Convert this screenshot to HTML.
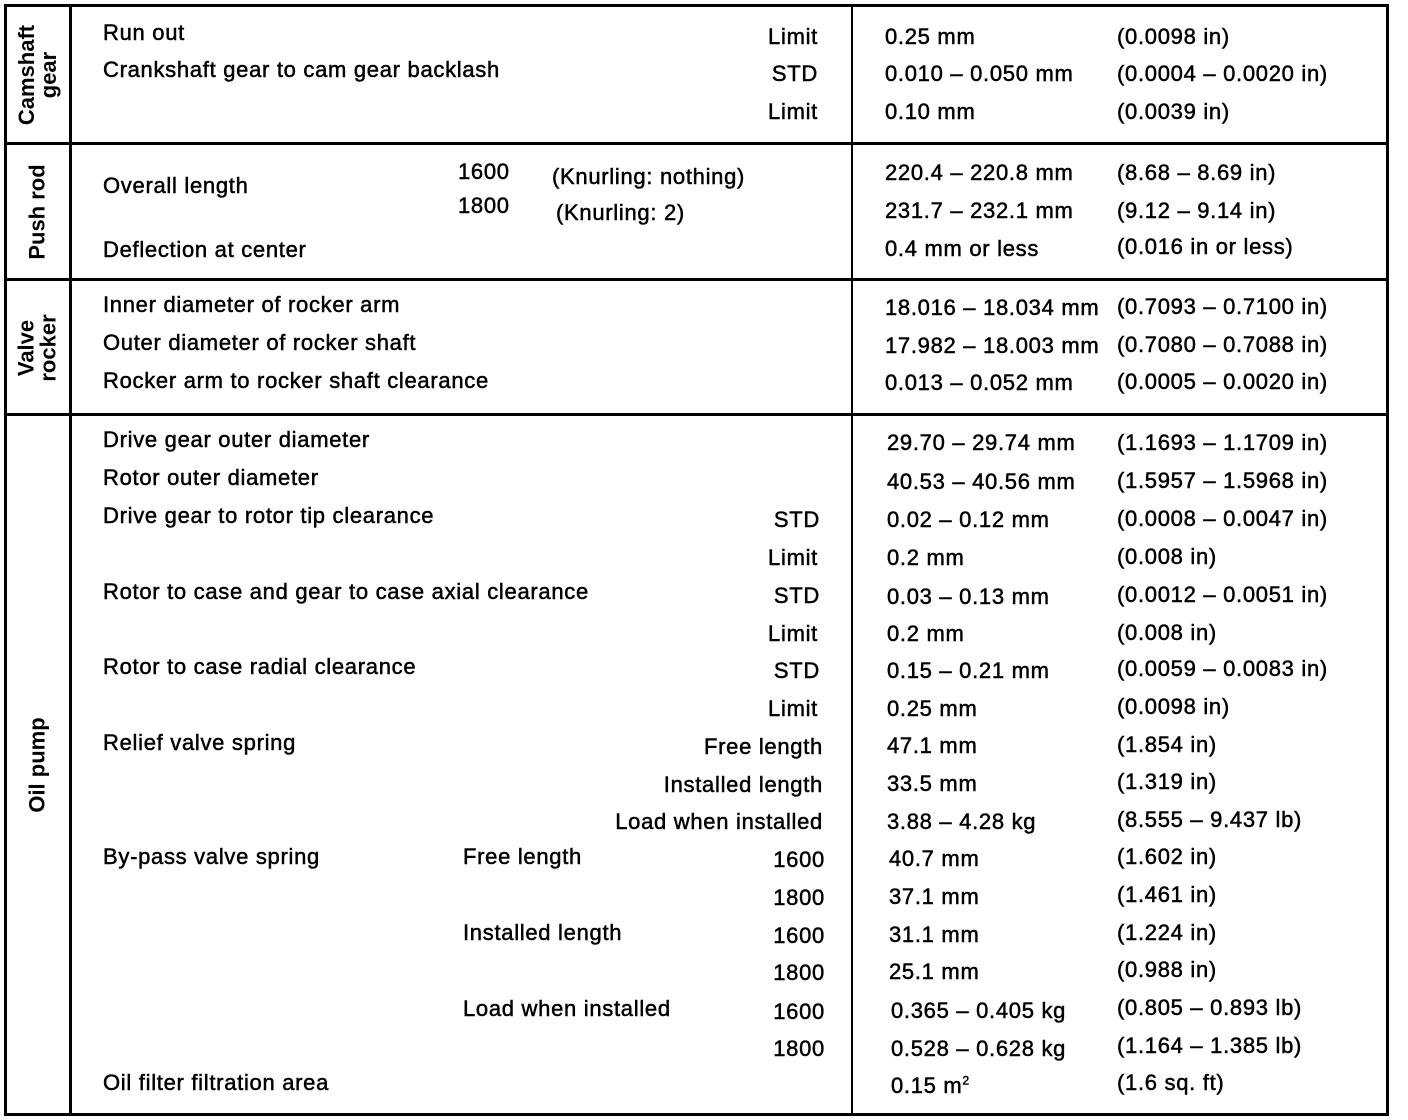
<!DOCTYPE html>
<html><head><meta charset="utf-8"><style>
body{margin:0;background:#fff;width:1408px;height:1120px;position:relative;overflow:hidden;font-family:"Liberation Sans",sans-serif;color:#000}
.t{position:absolute;font-size:22px;line-height:24px;white-space:nowrap;letter-spacing:0.7px;-webkit-text-stroke:0.5px #000}
.r{text-align:right}
.l{position:absolute;background:#000}
.v{position:absolute;display:flex;align-items:center;justify-content:center}
.v div{transform:rotate(-90deg);font-weight:bold;font-size:22px;line-height:22px;text-align:center;white-space:nowrap}
</style></head><body>
<div class="l" style="left:4px;top:4px;width:1385px;height:3px"></div>
<div class="l" style="left:4px;top:1113px;width:1385px;height:3px"></div>
<div class="l" style="left:4px;top:4px;width:3px;height:1112px"></div>
<div class="l" style="left:1386px;top:4px;width:3px;height:1112px"></div>
<div class="l" style="left:69px;top:4px;width:3px;height:1112px"></div>
<div class="l" style="left:851px;top:4px;width:2px;height:1112px"></div>
<div class="l" style="left:4px;top:142px;width:1385px;height:3px"></div>
<div class="l" style="left:4px;top:278px;width:1385px;height:3px"></div>
<div class="l" style="left:4px;top:413px;width:1385px;height:3px"></div>

<div class="v" style="left:7px;top:7px;width:62px;height:136px"><div>Camshaft<br>gear</div></div>
<div class="v" style="left:7px;top:145px;width:62px;height:134px"><div>Push rod</div></div>
<div class="v" style="left:7px;top:281px;width:62px;height:133px"><div>Valve<br>rocker</div></div>
<div class="v" style="left:7px;top:416px;width:62px;height:698px"><div>Oil pump</div></div>

<div class="t" style="left:103px;top:21px">Run out</div>
<div class="t" style="left:103px;top:58px">Crankshaft gear to cam gear backlash</div>
<div class="t r" style="right:590px;top:25px">Limit</div>
<div class="t r" style="right:590px;top:62px">STD</div>
<div class="t r" style="right:590px;top:100px">Limit</div>
<div class="t" style="left:885px;top:25px">0.25 mm</div>
<div class="t" style="left:1117px;top:25px">(0.0098 in)</div>
<div class="t" style="left:885px;top:62px">0.010 – 0.050 mm</div>
<div class="t" style="left:1117px;top:62px">(0.0004 – 0.0020 in)</div>
<div class="t" style="left:885px;top:100px">0.10 mm</div>
<div class="t" style="left:1117px;top:100px">(0.0039 in)</div>

<div class="t" style="left:103px;top:174px">Overall length</div>
<div class="t" style="left:458px;top:160px">1600</div>
<div class="t" style="left:552px;top:165px">(Knurling: nothing)</div>
<div class="t" style="left:458px;top:194px">1800</div>
<div class="t" style="left:556px;top:201px">(Knurling: 2)</div>
<div class="t" style="left:103px;top:238px">Deflection at center</div>
<div class="t" style="left:885px;top:161px">220.4 – 220.8 mm</div>
<div class="t" style="left:1117px;top:161px">(8.68 – 8.69 in)</div>
<div class="t" style="left:885px;top:199px">231.7 – 232.1 mm</div>
<div class="t" style="left:1117px;top:199px">(9.12 – 9.14 in)</div>
<div class="t" style="left:885px;top:237px">0.4 mm or less</div>
<div class="t" style="left:1117px;top:235px">(0.016 in or less)</div>

<div class="t" style="left:103px;top:293px">Inner diameter of rocker arm</div>
<div class="t" style="left:103px;top:331px">Outer diameter of rocker shaft</div>
<div class="t" style="left:103px;top:369px">Rocker arm to rocker shaft clearance</div>
<div class="t" style="left:885px;top:296px">18.016 – 18.034 mm</div><div class="t" style="left:1117px;top:295px">(0.7093 – 0.7100 in)</div>
<div class="t" style="left:885px;top:334px">17.982 – 18.003 mm</div><div class="t" style="left:1117px;top:333px">(0.7080 – 0.7088 in)</div>
<div class="t" style="left:885px;top:371px">0.013 – 0.052 mm</div>
<div class="t" style="left:1117px;top:370px">(0.0005 – 0.0020 in)</div>

<div class="t" style="left:103px;top:428px">Drive gear outer diameter</div>
<div class="t" style="left:103px;top:466px">Rotor outer diameter</div>
<div class="t" style="left:103px;top:504px">Drive gear to rotor tip clearance</div>
<div class="t" style="left:103px;top:580px">Rotor to case and gear to case axial clearance</div>
<div class="t" style="left:103px;top:655px">Rotor to case radial clearance</div>
<div class="t" style="left:103px;top:731px">Relief valve spring</div>
<div class="t" style="left:103px;top:845px">By-pass valve spring</div>
<div class="t" style="left:463px;top:845px">Free length</div>
<div class="t" style="left:463px;top:921px">Installed length</div>
<div class="t" style="left:463px;top:997px">Load when installed</div>
<div class="t" style="left:103px;top:1071px">Oil filter filtration area</div>

<div class="t r" style="right:588px;top:508px">STD</div>
<div class="t r" style="right:590px;top:546px">Limit</div>
<div class="t r" style="right:588px;top:584px">STD</div>
<div class="t r" style="right:590px;top:622px">Limit</div>
<div class="t r" style="right:588px;top:659px">STD</div>
<div class="t r" style="right:590px;top:697px">Limit</div>
<div class="t r" style="right:585px;top:735px">Free length</div>
<div class="t r" style="right:585px;top:773px">Installed length</div>
<div class="t r" style="right:585px;top:810px">Load when installed</div>
<div class="t r" style="right:583px;top:848px">1600</div>
<div class="t r" style="right:583px;top:886px">1800</div>
<div class="t r" style="right:583px;top:924px">1600</div>
<div class="t r" style="right:583px;top:961px">1800</div>
<div class="t r" style="right:583px;top:1000px">1600</div>
<div class="t r" style="right:583px;top:1037px">1800</div>

<div class="t" style="left:887px;top:431px">29.70 – 29.74 mm</div><div class="t" style="left:1117px;top:431px">(1.1693 – 1.1709 in)</div>
<div class="t" style="left:887px;top:470px">40.53 – 40.56 mm</div><div class="t" style="left:1117px;top:469px">(1.5957 – 1.5968 in)</div>
<div class="t" style="left:887px;top:508px">0.02 – 0.12 mm</div><div class="t" style="left:1117px;top:507px">(0.0008 – 0.0047 in)</div>
<div class="t" style="left:887px;top:546px">0.2 mm</div><div class="t" style="left:1117px;top:545px">(0.008 in)</div>
<div class="t" style="left:887px;top:585px">0.03 – 0.13 mm</div><div class="t" style="left:1117px;top:583px">(0.0012 – 0.0051 in)</div>
<div class="t" style="left:887px;top:622px">0.2 mm</div><div class="t" style="left:1117px;top:621px">(0.008 in)</div>
<div class="t" style="left:887px;top:659px">0.15 – 0.21 mm</div><div class="t" style="left:1117px;top:657px">(0.0059 – 0.0083 in)</div>
<div class="t" style="left:887px;top:697px">0.25 mm</div><div class="t" style="left:1117px;top:695px">(0.0098 in)</div>
<div class="t" style="left:887px;top:734px">47.1 mm</div><div class="t" style="left:1117px;top:733px">(1.854 in)</div>
<div class="t" style="left:887px;top:772px">33.5 mm</div><div class="t" style="left:1117px;top:770px">(1.319 in)</div>
<div class="t" style="left:887px;top:810px">3.88 – 4.28 kg</div><div class="t" style="left:1117px;top:808px">(8.555 – 9.437 lb)</div>
<div class="t" style="left:889px;top:847px">40.7 mm</div><div class="t" style="left:1117px;top:845px">(1.602 in)</div>
<div class="t" style="left:889px;top:885px">37.1 mm</div><div class="t" style="left:1117px;top:883px">(1.461 in)</div>
<div class="t" style="left:889px;top:923px">31.1 mm</div><div class="t" style="left:1117px;top:921px">(1.224 in)</div>
<div class="t" style="left:889px;top:960px">25.1 mm</div><div class="t" style="left:1117px;top:958px">(0.988 in)</div>
<div class="t" style="left:891px;top:999px">0.365 – 0.405 kg</div><div class="t" style="left:1117px;top:996px">(0.805 – 0.893 lb)</div>
<div class="t" style="left:891px;top:1037px">0.528 – 0.628 kg</div><div class="t" style="left:1117px;top:1034px">(1.164 – 1.385 lb)</div>
<div class="t" style="left:891px;top:1074px">0.15 m<sup style="font-size:12px;line-height:0">2</sup></div><div class="t" style="left:1117px;top:1071px">(1.6 sq. ft)</div>
</body></html>
